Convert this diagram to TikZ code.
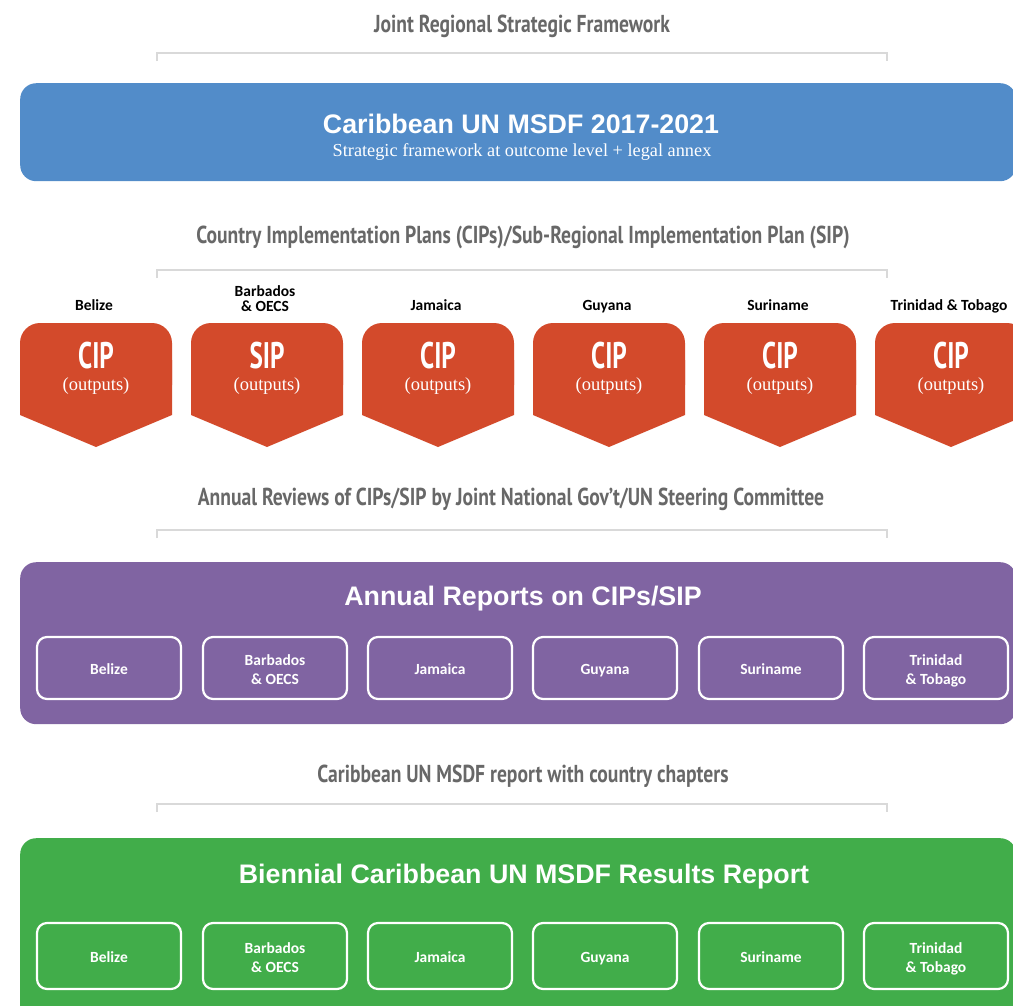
\documentclass[tikz,border=0pt]{standalone}
\usepackage{fontspec}
\setmainfont{Liberation Serif}
\newfontfamily\condf[FakeStretch=0.8]{PT Sans}
\newfontfamily\cipf[FakeStretch=0.68]{PT Sans}
\newfontfamily\helvf{Liberation Sans}
\newfontfamily\calf{Carlito}
\definecolor{titlegray}{RGB}{104,104,104}
\definecolor{bracketgray}{RGB}{217,217,217}
\definecolor{msdfblue}{RGB}{82,140,201}
\definecolor{cipred}{RGB}{211,74,43}
\definecolor{reppurple}{RGB}{128,100,162}
\definecolor{resgreen}{RGB}{65,173,74}
\begin{document}
\begin{tikzpicture}[x=1pt,y=-1pt,
  sectitle/.style={font=\condf\bfseries\fontsize{24.5}{27}\selectfont, text=titlegray, inner sep=0, anchor=base},
  bracket/.style={draw=bracketgray, line width=1.6},
  bigbox/.style={rounded corners=16, minimum width=996, anchor=north west, inner sep=0},
  boxtitle/.style={font=\helvf\bfseries\fontsize{26.8}{30}\selectfont, text=white, inner sep=0, anchor=base},
  subt/.style={font=\fontsize{18.3}{21}\selectfont, text=white, inner sep=0, anchor=base},
  ciptext/.style={font=\cipf\bfseries\fontsize{37}{40}\selectfont, text=white, inner sep=0, anchor=base, text depth=0pt},
  outtext/.style={font=\fontsize{18.5}{21}\selectfont, text=white, inner sep=0, anchor=base, text height=10pt},
  ctylab/.style={font=\calf\bfseries\fontsize{15.5}{16}\selectfont, text=black, align=center, inner sep=0},
  ibox/.style={draw=white, line width=2.2, rounded corners=10, minimum width=144, inner sep=0},
  iboxlab/.style={font=\calf\bfseries\fontsize{15.5}{19}\selectfont, text=white, align=center, inner sep=0}
]
\useasboundingbox (0,0) rectangle (1013,1005);
\clip (0,0) rectangle (1013,1005);

% ---- Title 1 and bracket
\node[sectitle] (t1) at (522,32) {Joint Regional Strategic Framework};
\coordinate (b1a) at (157,61);
\coordinate (b1b) at (887,61);
\draw[bracket] (b1a) -- ++(0,-8) -| (b1b);

% ---- Blue box
\node[bigbox, fill=msdfblue, minimum height=98] (blue) at (20,83) {};
\node[boxtitle] (bluet) at (521,133) {Caribbean UN MSDF 2017-2021};
\node[subt] (blues) at (522,156) {Strategic framework at outcome level + legal annex};

% ---- Title 2 and bracket
\node[sectitle] (t2) at (523,243) {Country Implementation Plans (CIPs)/Sub-Regional Implementation Plan (SIP)};
\coordinate (b2a) at (157,278);
\coordinate (b2b) at (887,278);
\draw[bracket] (b2a) -- ++(0,-8) -| (b2b);

% ---- CIP pentagons
\foreach \i/\x/\lab/\ly/\kind in {1/96/{\strut Belize}/307/CIP, 2/267/{\strut Barbados\\[-1pt]\strut\& OECS}/300.5/SIP, 3/438/{\strut Jamaica}/307/CIP, 4/609/{\strut Guyana}/307/CIP, 5/780/{\strut Suriname}/307/CIP, 6/951/{\strut Trinidad \& Tobago}/307/CIP}{
  \fill[cipred, rounded corners=20] (\x-76,323) rectangle (\x+76,405);
  \fill[cipred] (\x-76,360) -- (\x+76,360) -- (\x+76,415) -- (\x,447) -- (\x-76,415) -- cycle;
  \node[ctylab] (lab\i) at (\x-2,\ly) {\lab};
  \node[ciptext] (cip\i) at (\x,368) {\kind};
  \node[outtext] (out\i) at (\x,390) {(outputs)};
}

% ---- Title 3 and bracket
\node[sectitle] (t3) at (511,505) {Annual Reviews of CIPs/SIP by Joint National Gov’t/UN Steering Committee};
\coordinate (b3a) at (157,538);
\coordinate (b3b) at (887,538);
\draw[bracket] (b3a) -- ++(0,-8) -| (b3b);

% ---- Purple box
\node[bigbox, fill=reppurple, minimum height=162] (purple) at (20,562) {};
\node[boxtitle] (purplet) at (523,605) {Annual Reports on CIPs/SIP};
\foreach \i/\x/\lab in {1/109/{\strut Belize}, 2/275/{\strut Barbados\\\strut\& OECS}, 3/440/{\strut Jamaica}, 4/605/{\strut Guyana}, 5/771/{\strut Suriname}, 6/936/{\strut Trinidad\\\strut\& Tobago}}{
  \node[ibox, minimum height=62] (ar\i) at (\x,668) {};
  \node[iboxlab] (arl\i) at (\x,671) {\lab};
}

% ---- Title 4 and bracket
\node[sectitle] (t4) at (523,782) {Caribbean UN MSDF report with country chapters};
\coordinate (b4a) at (157,812);
\coordinate (b4b) at (887,812);
\draw[bracket] (b4a) -- ++(0,-8) -| (b4b);

% ---- Green box
\node[bigbox, fill=resgreen, minimum height=190] (green) at (20,838) {};
\node[boxtitle] (greent) at (524,883) {Biennial Caribbean UN MSDF Results Report};
\foreach \i/\x/\lab in {1/109/{\strut Belize}, 2/275/{\strut Barbados\\\strut\& OECS}, 3/440/{\strut Jamaica}, 4/605/{\strut Guyana}, 5/771/{\strut Suriname}, 6/936/{\strut Trinidad\\\strut\& Tobago}}{
  \node[ibox, minimum height=66] (rr\i) at (\x,956) {};
  \node[iboxlab] (rrl\i) at (\x,959) {\lab};
}
\end{tikzpicture}
\end{document}
